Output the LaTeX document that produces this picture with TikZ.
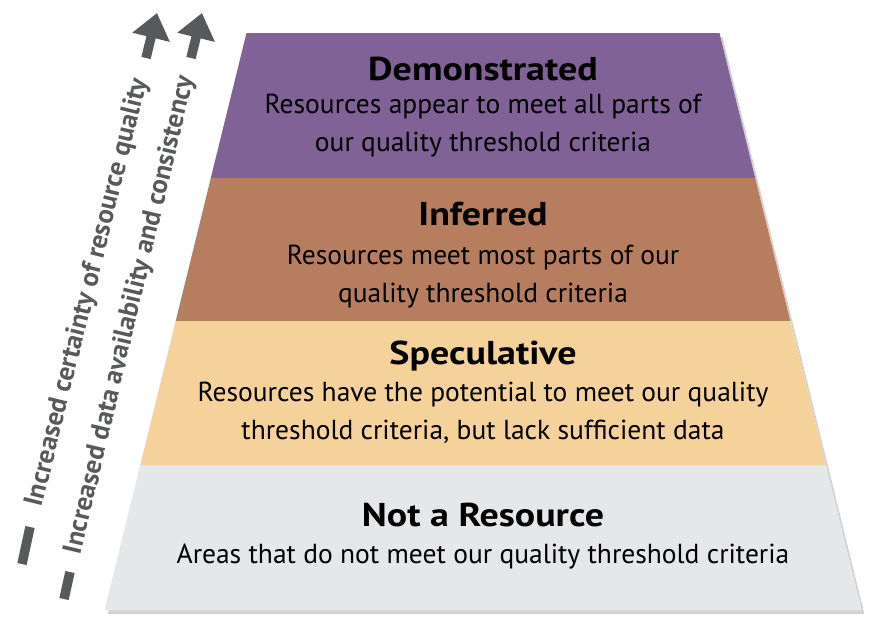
\documentclass[tikz,border=0pt]{standalone}
\usepackage{fontspec}
\setmainfont{PT Sans}
\newfontfamily\ttlfont{PT Sans}[FakeStretch=1.15]
\usepackage{tikz}
\usetikzlibrary{arrows.meta,shadows}
\definecolor{demopurple}{RGB}{128,98,151}
\definecolor{infbrown}{RGB}{182,126,95}
\definecolor{spectan}{RGB}{245,210,153}
\definecolor{notgray}{RGB}{230,231,232}
\definecolor{arrgray}{RGB}{88,89,91}
\newcommand{\ttl}[1]{{\ttlfont\fontsize{33}{38}\selectfont\bfseries #1}}

\begin{document}
\begin{tikzpicture}[x=1pt,y=-1pt,
    body/.style={align=center,inner sep=0pt,anchor=north,font=\fontsize{27.5}{38}\selectfont},
    head/.style={inner sep=0pt,anchor=base},
    side/.style={inner sep=0pt,text=arrgray,font=\fontsize{27}{30}\selectfont\bfseries},
    bar/.style={arrgray,line width=9.5pt},
    up/.style={arrgray,line width=9.5pt,-{Triangle[width=37pt,length=25pt]}}]
     \useasboundingbox (0,0) rectangle (893,640);
     \fill[white,drop shadow={shadow xshift=3pt,shadow yshift=-4pt,opacity=0.35}]
          (246.5,33) -- (719.5,33) -- (861.4,610) -- (104.6,610) -- cycle;
     \fill[demopurple] (246.5,33) -- (719.5,33) -- (755.2,178) -- (210.8,178) -- cycle;
     \fill[infbrown]   (210.8,178) -- (755.2,178) -- (790.3,321) -- (175.7,321) -- cycle;
     \fill[spectan]    (175.7,321) -- (790.3,321) -- (825.8,465) -- (140.2,465) -- cycle;
     \fill[notgray]    (140.2,465) -- (825.8,465) -- (861.4,610) -- (104.6,610) -- cycle;
     \node[head] (tdemo) at (483,80)  {\ttl{Demonstrated}};
     \node[body] (bdemo) at (483,94)  {Resources appear to meet all parts of\\our quality threshold criteria};
     \node[head] (tinf)  at (483,225) {\ttl{Inferred}};
     \node[body] (binf)  at (483,245) {Resources meet most parts of our\\quality threshold criteria};
     \node[head] (tspec) at (483,364) {\ttl{Speculative}};
     \node[body] (bspec) at (483,382) {Resources have the potential to meet our quality\\threshold criteria, but lack sufficient data};
     \node[head] (tnot)  at (483,526) {\ttl{Not a Resource}};
     \node[body] (bnot)  at (483,544) {Areas that do not meet our quality threshold criteria};
     \coordinate (qa) at (22,564);
     \coordinate (qb) at (30,527);
     \coordinate (qc) at (146,58);
     \coordinate (qd) at (157,13);
     \coordinate (da) at (64,599);
     \coordinate (db) at (70,572);
     \coordinate (dc) at (191,58);
     \coordinate (dd) at (202,13);
     \draw[bar] (qa) -- (qb);
     \draw[up]  (qc) -- (qd);
     \draw[bar] (da) -- (db);
     \draw[up]  (dc) -- (dd);
     \path (qb) -- (qc) node[side,midway,rotate=76.1] (squal) {Increased certainty of resource quality};
     \path (db) -- (dc) node[side,midway,rotate=76.7] (sdata) {Increased data availability and consistency};
\end{tikzpicture}
\end{document}
